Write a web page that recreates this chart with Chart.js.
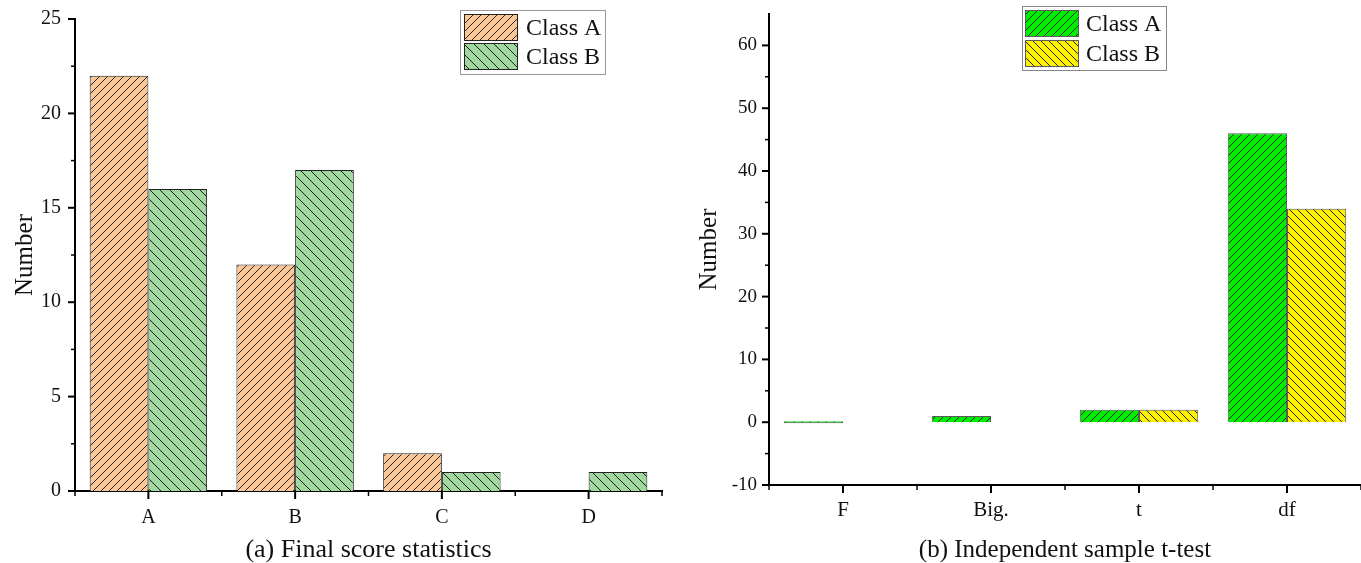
<!DOCTYPE html>
<html>
<head>
<meta charset="utf-8">
<title>Final score statistics / Independent sample t-test</title>
<script src="https://cdn.jsdelivr.net/npm/chart.js@4.4.1/dist/chart.umd.min.js"></script>
<style>
  body { margin: 0; background: #fff; }
  #wrapA { position: absolute; left: 0; top: 0; }
  #wrapB { position: absolute; left: 680px; top: 0; }
</style>
</head>
<body>
<div id="wrapA"><canvas id="scoreChart" width="680" height="563"></canvas></div>
<div id="wrapB"><canvas id="ttestChart" width="681" height="563"></canvas></div>
<script>
// (a) final score statistics
var scoreLabels = ['A', 'B', 'C', 'D'];
var scoreClassA = [22, 12, 2, 0];
var scoreClassB = [16, 17, 1, 1];
var scoreTicks = { min: 0, max: 25, step: 5 };

// (b) independent sample t-test
var testLabels = ['F', 'Big.', 't', 'df'];
var testClassA = [0, 1, 2, 46];
var testClassB = [null, null, 2, 34];
var testTicks = { min: -10, max: 65, step: 10 };

var seriesNames = ['Class A', 'Class B'];

Chart.defaults.font.family = '"Liberation Serif", "Times New Roman", serif';
Chart.defaults.color = '#111';

// diagonal hatch fill, '/' or '\'
function hatch(canvasId, bg, line, size, dir) {
  var c = document.createElement('canvas');
  c.width = size; c.height = size;
  var g = c.getContext('2d');
  g.fillStyle = bg;
  g.fillRect(0, 0, size, size);
  g.strokeStyle = line;
  g.lineWidth = 1;
  g.beginPath();
  if (dir === '/') {
    g.moveTo(0, size); g.lineTo(size, 0);
    g.moveTo(-1, 1); g.lineTo(1, -1);
    g.moveTo(size - 1, size + 1); g.lineTo(size + 1, size - 1);
  } else {
    g.moveTo(0, 0); g.lineTo(size, size);
    g.moveTo(size - 1, -1); g.lineTo(size + 1, 1);
    g.moveTo(-1, size - 1); g.lineTo(1, size + 1);
  }
  g.stroke();
  return document.getElementById(canvasId).getContext('2d').createPattern(c, 'repeat');
}

// Origin style ticks: outward majors + minors
var axisTicks = {
  id: 'axisTicks',
  afterDraw: function (chart) {
    var ctx = chart.ctx, xs = chart.scales.x, ys = chart.scales.y;
    var left = chart.chartArea.left, bottom = chart.chartArea.bottom;
    function seg(x1, y1, x2, y2, w) {
      ctx.lineWidth = w;
      ctx.beginPath(); ctx.moveTo(x1, y1); ctx.lineTo(x2, y2); ctx.stroke();
    }
    ctx.save();
    ctx.strokeStyle = '#000';
    ys.ticks.forEach(function (t, i) {
      var py = ys.getPixelForValue(t.value);
      seg(left - 7, py, left, py, 2);
      var nx = ys.ticks[i + 1];
      if (nx) {
        var my = ys.getPixelForValue((t.value + nx.value) / 2);
        seg(left - 4, my, left, my, 1.5);
      }
    });
    var n = chart.data.labels.length;
    for (var i = 0; i < n; i++) {
      var px = xs.getPixelForValue(i);
      seg(px, bottom, px, bottom + 8, 2);
    }
    for (var j = 0; j <= n; j++) {
      var bx = xs.left + j * (xs.width / n);
      seg(bx, bottom, bx, bottom + 5, 1.5);
    }
    ctx.restore();
  }
};

// framed legend inside the plot
var boxLegend = {
  id: 'boxLegend',
  afterDraw: function (chart, args, o) {
    var ctx = chart.ctx;
    ctx.save();
    ctx.strokeStyle = o.frameColor;
    ctx.lineWidth = 1;
    ctx.strokeRect(o.left + 0.5, o.top + 0.5, o.width, o.height);
    chart.data.datasets.forEach(function (ds, i) {
      var top = o.rowTops[i];
      ctx.fillStyle = ds.backgroundColor;
      ctx.fillRect(o.swatchLeft, top, o.swatchWidth, o.rowHeight);
      ctx.strokeStyle = ds.borderColor;
      ctx.strokeRect(o.swatchLeft + 0.5, top + 0.5, o.swatchWidth - 1, o.rowHeight - 1);
      ctx.fillStyle = '#111';
      ctx.font = '24px "Liberation Serif", "Times New Roman", serif';
      ctx.textBaseline = 'middle';
      ctx.fillText(ds.label, o.textLeft, top + o.rowHeight / 2 + 1);
    });
    ctx.restore();
  }
};

function makeOptions(cfg) {
  return {
    responsive: false,
    animation: false,
    layout: { padding: cfg.padding },
    plugins: {
      legend: { display: false },
      tooltip: { enabled: false },
      boxLegend: cfg.legend
    },
    scales: {
      x: {
        grid: { display: false, drawTicks: false },
        border: { display: true, color: '#000', width: 2 },
        ticks: { padding: cfg.xPad, color: '#111', font: { size: cfg.xFont } },
        title: {
          display: true, text: cfg.title, color: '#111',
          font: { size: cfg.titleFont, lineHeight: 1 }, padding: { top: 0, bottom: 0 }
        },
        afterFit: function (s) {
          s.height = cfg.xHeight;
          s.paddingLeft = 0; s.paddingRight = 0;
        }
      },
      y: {
        min: cfg.ticks.min,
        max: cfg.ticks.max,
        grid: { display: false, drawTicks: false },
        border: { display: true, color: '#000', width: 2 },
        ticks: { stepSize: cfg.ticks.step, padding: cfg.yPad, color: '#111', font: { size: cfg.yFont } },
        title: {
          display: true, text: 'Number', color: '#111',
          font: { size: 25, lineHeight: 1 }, padding: { top: cfg.yTitlePad, bottom: 0 }
        },
        afterBuildTicks: function (s) {
          s.ticks = s.ticks.filter(function (t) { return t.value % cfg.ticks.step === 0; });
        },
        afterFit: function (s) {
          s.width = cfg.yWidth;
          s.paddingTop = 0; s.paddingBottom = 0;
        }
      }
    }
  };
}

new Chart(document.getElementById('scoreChart'), {
  type: 'bar',
  plugins: [axisTicks, boxLegend],
  data: {
    labels: scoreLabels,
    datasets: [{
      label: seriesNames[0],
      data: scoreClassA,
      backgroundColor: hatch('scoreChart', '#FAC896', '#262626', 8, '/'),
      borderColor: '#222',
      borderWidth: 1,
      categoryPercentage: 0.8,
      barPercentage: 1
    }, {
      label: seriesNames[1],
      data: scoreClassB,
      backgroundColor: hatch('scoreChart', '#A0D8A0', '#1e1e1e', 10, '\\'),
      borderColor: '#222',
      borderWidth: 1,
      categoryPercentage: 0.8,
      barPercentage: 1
    }]
  },
  options: makeOptions({
    padding: { top: 19, right: 18, left: 0, bottom: 0 },
    title: '(a) Final score statistics',
    ticks: scoreTicks,
    xHeight: 72, yWidth: 75, xPad: 15, yPad: 14, yTitlePad: 13,
    xFont: 20, yFont: 20, titleFont: 26,
    legend: {
      left: 460, top: 10, width: 145, height: 64, frameColor: '#999',
      swatchLeft: 464, swatchWidth: 54, rowTops: [14, 43], rowHeight: 27, textLeft: 526
    }
  })
});

new Chart(document.getElementById('ttestChart'), {
  type: 'bar',
  plugins: [axisTicks, boxLegend],
  data: {
    labels: testLabels,
    datasets: [{
      label: seriesNames[0],
      data: testClassA,
      backgroundColor: hatch('ttestChart', '#00EE00', '#222', 8, '/'),
      borderColor: '#5a5a5a',
      borderWidth: 1,
      minBarLength: 2,
      categoryPercentage: 0.8,
      barPercentage: 1
    }, {
      label: seriesNames[1],
      data: testClassB,
      backgroundColor: hatch('ttestChart', '#FFF200', '#222', 8, '\\'),
      borderColor: '#5a5a5a',
      borderWidth: 1,
      categoryPercentage: 0.8,
      barPercentage: 1
    }]
  },
  options: makeOptions({
    padding: { top: 14, right: 0, left: 0, bottom: 0 },
    title: '(b) Independent sample t-test',
    ticks: testTicks,
    xHeight: 78, yWidth: 89, xPad: 13, yPad: 12, yTitlePad: 17,
    xFont: 21, yFont: 19, titleFont: 25,
    legend: {
      left: 342, top: 6, width: 144, height: 64, frameColor: '#888',
      swatchLeft: 345, swatchWidth: 54, rowTops: [10, 40], rowHeight: 27, textLeft: 406
    }
  })
});
</script>
</body>
</html>
